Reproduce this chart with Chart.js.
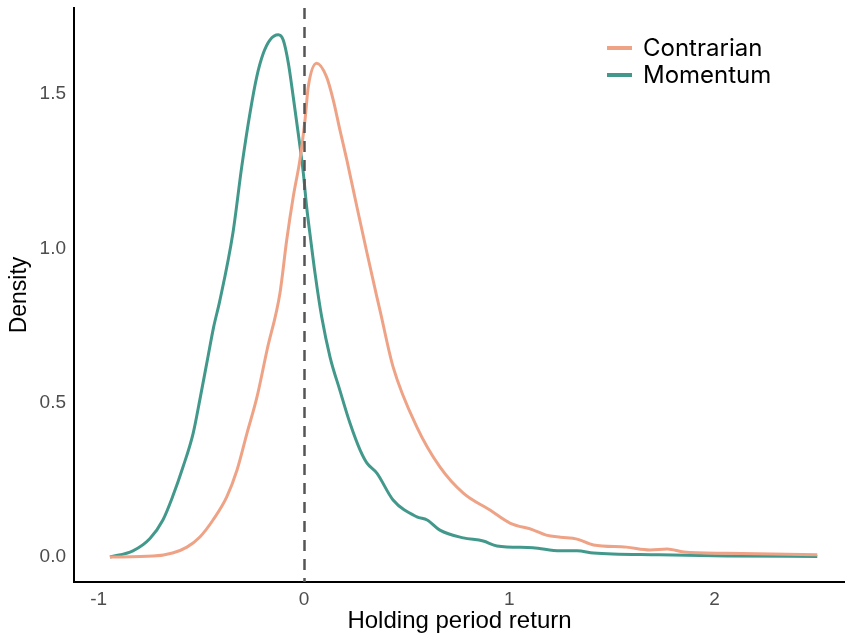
<!DOCTYPE html>
<html>
<head>
<meta charset="utf-8">
<script src="https://cdn.jsdelivr.net/npm/chart.js@4/dist/chart.umd.min.js"></script>
<style>
  html, body { margin: 0; padding: 0; background: #fff; }
  .wrap { position: relative; width: 845px; height: 637px; }
  .legend { position: absolute; left: 607px; top: 34px; font-family: "Inter", sans-serif; font-size: 24px; color: #000; }
  .legend__row { display: flex; align-items: center; height: 27px; }
  .legend__swatch { width: 25px; height: 4px; margin-right: 11px; }
</style>
</head>
<body>
<div class="wrap">
  <canvas id="chart" width="845" height="637"></canvas>
  <div class="legend">
    <div class="legend__row"><span class="legend__swatch" style="background:#EFA386"></span>Contrarian</div>
    <div class="legend__row"><span class="legend__swatch" style="background:#42998B"></span>Momentum</div>
  </div>
</div>
<script>
/* =========================
   Data
========================= */
const momentumX = [-0.945, -0.833, -0.75, -0.687, -0.64, -0.59, -0.54, -0.507, -0.47, -0.44, -0.41,
  -0.346, -0.303, -0.263, -0.23, -0.198, -0.166, -0.125, -0.101, -0.076, -0.052, -0.028, -0.003, 0.013,
  0.033, 0.054, 0.086, 0.127, 0.175, 0.224, 0.273, 0.306, 0.355, 0.434, 0.55, 0.60, 0.662, 0.776, 0.873,
  0.94, 1.115, 1.247, 1.33, 1.41, 1.73, 2.06, 2.5];
const momentumY = [0, 0.02, 0.06, 0.12, 0.195, 0.29, 0.40, 0.51, 0.64, 0.745, 0.83,
  1.05, 1.265, 1.438, 1.556, 1.632, 1.675, 1.692, 1.675, 1.60, 1.49, 1.373, 1.243, 1.135,
  1.027, 0.919, 0.779, 0.648, 0.54, 0.434, 0.347, 0.305, 0.272, 0.185, 0.13, 0.12, 0.087, 0.062, 0.052,
  0.036, 0.03, 0.02, 0.02, 0.013, 0.007, 0.003, 0.002];

const contrarianX = [-0.945, -0.735, -0.64, -0.57, -0.507, -0.443, -0.376, -0.326, -0.278, -0.229, -0.18,
  -0.117, -0.084, -0.052, -0.02, 0.005, 0.021, 0.062, 0.11, 0.143, 0.175, 0.209, 0.258, 0.307, 0.355,
  0.37, 0.434, 0.55, 0.662, 0.776, 0.906, 1.003, 1.115, 1.18, 1.25, 1.33, 1.41, 1.57, 1.685, 1.77, 1.85, 2.06, 2.5];
const contrarianY = [0, 0.003, 0.013, 0.032, 0.065, 0.12, 0.195, 0.282, 0.40, 0.518, 0.67,
  0.855, 1.027, 1.168, 1.286, 1.416, 1.524, 1.60, 1.556, 1.48, 1.384, 1.286, 1.134, 0.985, 0.843,
  0.80, 0.616, 0.421, 0.292, 0.207, 0.152, 0.11, 0.088, 0.071, 0.064, 0.058, 0.039, 0.032, 0.023, 0.026, 0.016, 0.012, 0.007];

const xTicks = [-1, 0, 1, 2];
const yTicks = [0, 0.5, 1.0, 1.5];
const refLineX = 0;

const toPoints = (xs, ys) => xs.map((x, i) => ({ x, y: ys[i] }));

/* dashed vertical line at x = 0 */
const refLine = {
  id: "refLine",
  afterDatasetsDraw(chart) {
    const { ctx, chartArea, scales } = chart;
    const px = Math.round(scales.x.getPixelForValue(refLineX)) + 0.5;
    ctx.save();
    ctx.strokeStyle = "#555555";
    ctx.lineWidth = 2.5;
    ctx.setLineDash([11, 8]);
    ctx.beginPath();
    ctx.moveTo(px, chartArea.top);
    ctx.lineTo(px, chartArea.bottom);
    ctx.stroke();
    ctx.restore();
  }
};

const tickFont = { family: "'Liberation Sans', Arial, sans-serif", size: 19 };
const FONT = "'Liberation Sans', Arial, sans-serif";

new Chart(document.getElementById("chart"), {
  type: "line",
  data: {
    datasets: [
      { label: "Contrarian", data: toPoints(contrarianX, contrarianY), borderColor: "#EFA386",
        borderWidth: 3, pointRadius: 0, cubicInterpolationMode: "monotone", fill: false },
      { label: "Momentum", data: toPoints(momentumX, momentumY), borderColor: "#42998B",
        borderWidth: 3, pointRadius: 0, cubicInterpolationMode: "monotone", fill: false },
    ],
  },
  options: {
    responsive: false,
    animation: false,
    layout: { padding: { top: 8, right: 0, left: 0, bottom: 0 } },
    plugins: { legend: { display: false }, tooltip: { enabled: false } },
    scales: {
      x: {
        type: "linear",
        min: -1.12, max: 2.635,
        afterBuildTicks: (s) => { s.ticks = xTicks.map(v => ({ value: v })); },
        afterFit: (s) => { s.height = 55; s.paddingLeft = 0; s.paddingRight = 0; },
        grid: { display: false, drawTicks: false },
        border: { display: true, color: "#000", width: 2 },
        ticks: { font: tickFont, color: "#4D4D4D", padding: 6, callback: (v) => `${v}` },
        title: { display: true, text: "Holding period return", font: { family: FONT, size: 24 }, color: "#000", padding: { top: 0, bottom: 1 } },
      },
      y: {
        type: "linear",
        min: -0.081, max: 1.779,
        afterBuildTicks: (s) => { s.ticks = yTicks.map(v => ({ value: v })); },
        afterFit: (s) => { s.width = 74; s.paddingTop = 0; s.paddingBottom = 0; },
        grid: { display: false, drawTicks: false },
        border: { display: true, color: "#000", width: 2 },
        ticks: { font: tickFont, color: "#4D4D4D", padding: 8, callback: (v) => v.toFixed(1) },
        title: { display: true, text: "Density", font: { family: FONT, size: 23 }, color: "#000", padding: { top: 6, bottom: 0 } },
      },
    },
  },
  plugins: [refLine],
});
</script>
</body>
</html>
